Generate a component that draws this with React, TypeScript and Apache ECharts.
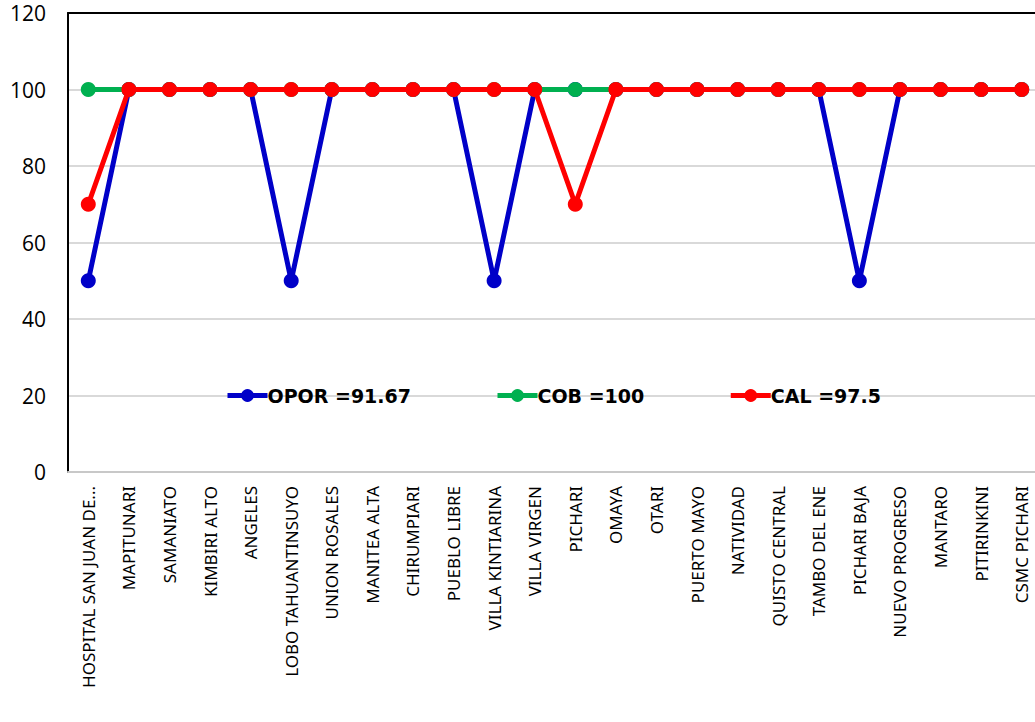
import React, { useEffect, useRef } from "react";
import * as echarts from "echarts";

const categories = [
  "HOSPITAL SAN JUAN DE...", "MAPITUNARI", "SAMANIATO", "KIMBIRI ALTO", "ANGELES",
  "LOBO TAHUANTINSUYO", "UNION ROSALES", "MANITEA ALTA", "CHIRUMPIARI", "PUEBLO LIBRE",
  "VILLA KINTIARINA", "VILLA VIRGEN", "PICHARI", "OMAYA", "OTARI", "PUERTO MAYO",
  "NATIVIDAD", "QUISTO CENTRAL", "TAMBO DEL ENE", "PICHARI BAJA", "NUEVO PROGRESO",
  "MANTARO", "PITIRINKINI", "CSMC PICHARI",
];
const opor = [50, 100, 100, 100, 100, 50, 100, 100, 100, 100, 50, 100, 100, 100, 100, 100, 100, 100, 100, 50, 100, 100, 100, 100];
const cob = [100, 100, 100, 100, 100, 100, 100, 100, 100, 100, 100, 100, 100, 100, 100, 100, 100, 100, 100, 100, 100, 100, 100, 100];
const cal = [70, 100, 100, 100, 100, 100, 100, 100, 100, 100, 100, 100, 70, 100, 100, 100, 100, 100, 100, 100, 100, 100, 100, 100];
const seriesNames = ["OPOR =91.67", "COB =100", "CAL =97.5"];
const yTicks = { min: 0, max: 120, interval: 20 };

export default function App() {
  const ref = useRef<HTMLDivElement>(null);
  useEffect(() => {
    document.body.style.margin = "0";
    const chart = echarts.init(ref.current!, null, { renderer: "svg" });
    const font = "'Noto Sans', 'Open Sans', sans-serif";
    const mk = (name: string, data: number[], color: string, z: number) => ({
      name,
      type: "line",
      data,
      z,
      symbol: "circle",
      symbolSize: 15,
      lineStyle: { color, width: 5 },
      itemStyle: { color },
      emphasis: { disabled: true },
    });
    chart.setOption({
      animation: false,
      textStyle: { fontFamily: font },
      grid: { left: 68, right: 0, top: 13, bottom: 250, containLabel: false },
      legend: {
        left: 220,
        top: 381,
        itemGap: 84,
        itemWidth: 40,
        itemHeight: 16,
        lineStyle: { width: 5 },
        textStyle: { fontSize: 19, fontWeight: "bold", color: "#000", fontFamily: "'DejaVu Sans', sans-serif", padding: [0, 0, 0, -5] },
        data: seriesNames,
      },
      xAxis: [
        {
          type: "category",
          data: categories,
          boundaryGap: true,
          axisLine: { lineStyle: { color: "#c8c8c8", width: 2 } },
          axisTick: { show: false },
          axisLabel: { rotate: 90, interval: 0, fontSize: 17, color: "#000", margin: 14, fontFamily: font },
        },
        {
          type: "category",
          data: categories,
          position: "top",
          axisLine: { show: true, lineStyle: { color: "#000", width: 2 } },
          axisTick: { show: false },
          axisLabel: { show: false },
        },
      ],
      yAxis: {
        type: "value",
        min: yTicks.min,
        max: yTicks.max,
        interval: yTicks.interval,
        axisLine: { show: true, lineStyle: { color: "#000", width: 2 } },
        axisTick: { show: false },
        splitLine: { show: true, lineStyle: { color: "#d9d9d9", width: 2 } },
        axisLabel: { fontSize: 21, color: "#000", margin: 22, fontFamily: "'Open Sans', sans-serif" },
      },
      series: [
        mk(seriesNames[0], opor, "#0000C8", 2),
        mk(seriesNames[1], cob, "#00B050", 3),
        mk(seriesNames[2], cal, "#FF0000", 4),
      ],
    });
    return () => chart.dispose();
  }, []);
  return (
    <div style={{ width: 1035, height: 722, position: "absolute", left: 0, top: 0, overflow: "hidden" }}>
      <div ref={ref} style={{ width: 1042, height: 722 }} />
    </div>
  );
}
